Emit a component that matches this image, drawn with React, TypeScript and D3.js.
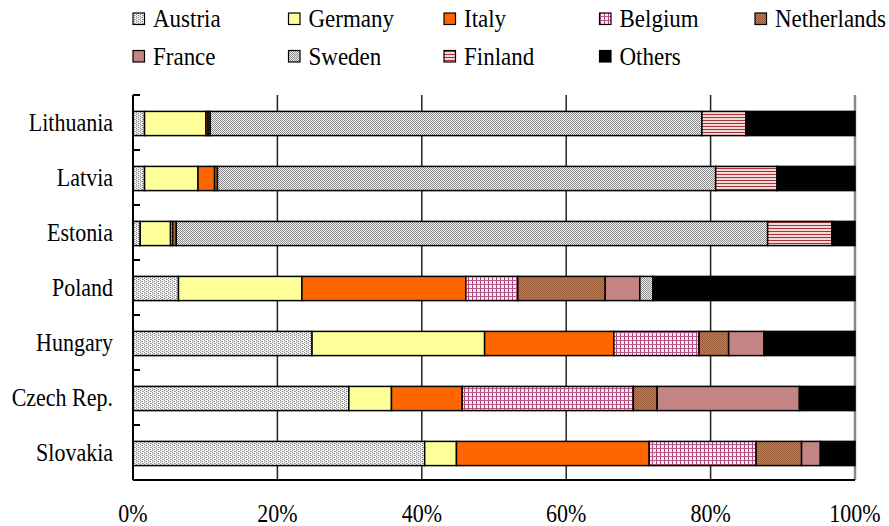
import React from 'react'
import * as d3 from 'd3'

const width = 889
const height = 526
const margin = { top: 95, right: 34, bottom: 46, left: 133 }

const countries = ['Lithuania', 'Latvia', 'Estonia', 'Poland', 'Hungary', 'Czech Rep.', 'Slovakia']
const partners = ['Austria', 'Germany', 'Italy', 'Belgium', 'Netherlands', 'France', 'Sweden', 'Finland', 'Others']

// shares in % per partner, same order as countries
const austria = [1.6, 1.6, 1.0, 6.3, 24.8, 29.9, 40.4]
const germany = [8.5, 7.4, 4.2, 17.1, 23.9, 5.9, 4.4]
const italy = [0.3, 2.3, 0, 22.7, 17.9, 9.8, 26.7]
const belgium = [0, 0, 0.3, 7.2, 11.8, 23.7, 14.8]
const netherlands = [0.3, 0.4, 0.5, 12.1, 4.1, 3.3, 6.3]
const france = [0, 0, 0, 4.8, 4.9, 19.7, 2.6]
const sweden = [68.1, 69.0, 81.9, 1.8, 0, 0, 0]
const finland = [6.1, 8.5, 8.9, 0, 0, 0, 0]
const others = [15.1, 10.8, 3.2, 28.0, 12.6, 7.7, 4.8]

const xTicks = [0, 20, 40, 60, 80, 100]

const series = [austria, germany, italy, belgium, netherlands, france, sweden, finland, others]

const fills: Record<string, string> = {
  Austria: 'url(#p-austria)',
  Germany: '#FFFF99',
  Italy: '#FF6600',
  Belgium: 'url(#p-belgium)',
  Netherlands: 'url(#p-netherlands)',
  France: '#C48484',
  Sweden: 'url(#p-sweden)',
  Finland: 'url(#p-finland)',
  Others: '#000000',
}

const font = '"Liberation Serif", "Times New Roman", serif'

// the original text is a bit taller than it is wide
const Label = ({ x, y, anchor = 'start', size, children }: any) => (
  <text transform={`translate(${x},${y}) scale(1,1.1)`} textAnchor={anchor} fontSize={size} fill="#000">
    {children}
  </text>
)

export default function App() {
  const rows = countries.map((c, i) => {
    const row: Record<string, any> = { country: c }
    partners.forEach((p, j) => (row[p] = series[j][i]))
    return row
  })
  const stacked = d3.stack<Record<string, any>>().keys(partners)(rows)

  const x = d3.scaleLinear().domain([0, 100]).range([margin.left, width - margin.right])
  const y = d3
    .scaleBand()
    .domain(countries)
    .range([margin.top, height - margin.bottom])
    .paddingInner(0.56)
    .paddingOuter(0.28)
  const step = y.step()
  const bottom = height - margin.bottom

  return (
    <svg
      width={width}
      height={height}
      style={{ position: 'absolute', left: 0, top: 0, background: '#fff' }}
      fontFamily={font}
    >
      <defs>
        <pattern id="p-austria" width="4" height="4" patternUnits="userSpaceOnUse">
          <rect width="4" height="4" fill="#f4f4f4" />
          <rect x="0" y="0" width="1" height="1" fill="#888" />
          <rect x="2" y="1" width="1" height="1" fill="#888" />
          <rect x="0" y="2" width="1" height="1" fill="#888" />
          <rect x="2" y="3" width="1" height="1" fill="#888" />
          <rect x="1" y="1" width="1" height="1" fill="#bbb" />
          <rect x="3" y="3" width="1" height="1" fill="#bbb" />
        </pattern>
        <pattern id="p-sweden" width="2" height="2" patternUnits="userSpaceOnUse">
          <rect width="2" height="2" fill="#f0f0f0" />
          <rect x="0" y="0" width="1" height="1" fill="#8c8c8c" />
          <rect x="1" y="1" width="1" height="1" fill="#8c8c8c" />
        </pattern>
        <pattern id="p-belgium" width="4" height="4" patternUnits="userSpaceOnUse">
          <rect width="4" height="4" fill="#f8e8f0" />
          <rect x="0" y="0" width="1" height="4" fill="#a8467a" />
          <rect x="0" y="0" width="4" height="1" fill="#b85a88" />
        </pattern>
        <pattern id="p-netherlands" width="2" height="2" patternUnits="userSpaceOnUse">
          <rect width="2" height="2" fill="#cc7a48" />
          <rect x="0" y="0" width="1" height="1" fill="#9a5a36" />
          <rect x="1" y="1" width="1" height="1" fill="#9a5a36" />
        </pattern>
        <pattern id="p-finland" width="4" height="3" patternUnits="userSpaceOnUse">
          <rect width="4" height="3" fill="#fff" />
          <rect x="0" y="0" width="4" height="1" fill="#a83232" />
          <rect x="0" y="1.6" width="4" height="0.8" fill="#e0a0a0" />
        </pattern>
      </defs>

      {/* legend */}
      {partners.map((p, i) => {
        const col = i < 5 ? i : i - 5
        const row = i < 5 ? 0 : 1
        const lx = 133 + col * 155.5
        const ly = 13 + row * 37.5
        return (
          <g key={p}>
            <rect x={lx} y={ly} width={11.5} height={11.5} fill={fills[p]} stroke="#000" strokeWidth={1.2} />
            <Label x={lx + 20} y={ly + 14} size={23}>
              {p}
            </Label>
          </g>
        )
      })}

      {/* grid lines */}
      {xTicks.slice(1).map((t) => (
        <line
          key={t}
          x1={x(t)}
          x2={x(t)}
          y1={margin.top}
          y2={bottom}
          stroke={t === 100 ? '#888' : '#222'}
          strokeWidth={t === 100 ? 2.5 : 1.5}
        />
      ))}

      {/* bars */}
      {stacked.map((s) => (
        <g key={s.key}>
          {s.map((d, i) =>
            d[1] - d[0] > 0 ? (
              <rect
                key={i}
                x={x(d[0])}
                y={(y(countries[i]) ?? 0) + 1}
                width={x(d[1]) - x(d[0])}
                height={y.bandwidth()}
                fill={fills[s.key]}
                stroke="#000"
                strokeWidth={1.5}
              />
            ) : null,
          )}
        </g>
      ))}

      {/* axes */}
      <line x1={margin.left} x2={margin.left} y1={margin.top} y2={bottom} stroke="#000" strokeWidth={2} />
      <line x1={margin.left} x2={x(100)} y1={bottom} y2={bottom} stroke="#000" strokeWidth={2} />
      {d3.range(countries.length).map((i) => (
        <line
          key={i}
          x1={margin.left}
          x2={margin.left + 7}
          y1={margin.top + i * step}
          y2={margin.top + i * step}
          stroke="#000"
          strokeWidth={2}
        />
      ))}

      {countries.map((c) => (
        <Label key={c} x={113} y={(y(c) ?? 0) + y.bandwidth() / 2 + 8} anchor="end" size={22}>
          {c}
        </Label>
      ))}

      {xTicks.map((t) => (
        <Label key={t} x={x(t)} y={522} anchor="middle" size={22}>
          {t}%
        </Label>
      ))}
    </svg>
  )
}
